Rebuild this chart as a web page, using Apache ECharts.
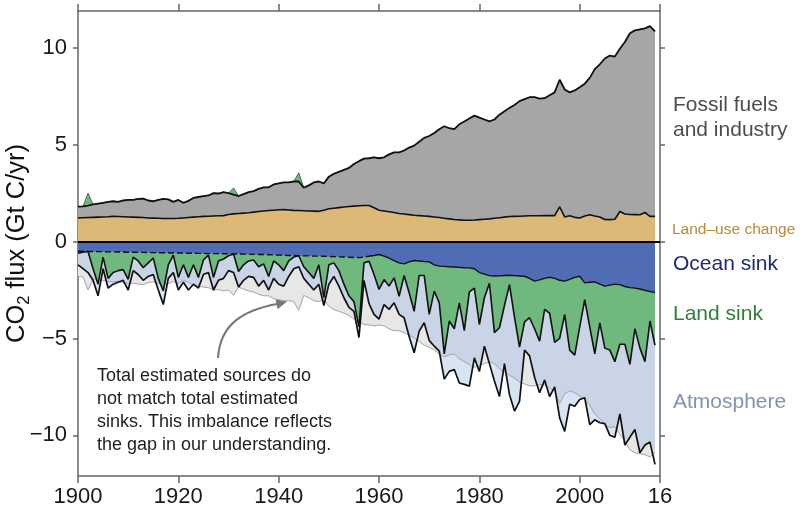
<!DOCTYPE html>
<html><head><meta charset="utf-8">
<script src="https://cdn.jsdelivr.net/npm/echarts@6/dist/echarts.min.js"></script>
<style>html,body{margin:0;padding:0;background:#fff}#c{width:800px;height:522px}</style>
</head><body><div id="c"></div>
<script>
const startYear = 1900;
// Gt C / yr, 1900 .. 2015
const fossil = [0.58,0.59,0.61,0.67,0.70,0.73,0.77,0.78,0.76,0.84,
0.88,0.89,0.95,0.98,0.90,0.87,0.95,1.01,0.99,0.86,
0.95,0.78,0.86,0.99,1.02,1.05,1.07,1.18,1.15,1.21,
1.10,0.99,0.90,0.98,1.06,1.08,1.17,1.22,1.20,1.33,
1.36,1.40,1.42,1.49,1.50,1.19,1.32,1.48,1.54,1.38,
1.66,1.78,1.85,1.92,1.99,2.17,2.30,2.42,2.44,2.61,
2.68,2.77,2.96,3.10,3.15,3.28,3.46,3.59,3.81,4.03,
4.15,4.33,4.56,4.75,4.68,4.66,4.93,5.10,5.25,5.39,
5.27,5.15,5.03,5.10,5.32,5.46,5.61,5.75,5.94,6.03,
6.12,6.12,6.05,6.06,6.21,6.36,6.56,6.58,6.37,6.55,
6.75,6.83,7.07,7.58,7.88,8.31,8.47,8.40,8.40,8.88,
9.35,9.51,9.57,9.50,9.82,9.55];
const landUse = [1.22,1.23,1.24,1.25,1.26,1.27,1.28,1.30,1.29,1.28,
1.27,1.26,1.25,1.24,1.22,1.21,1.20,1.19,1.19,1.19,
1.20,1.22,1.24,1.26,1.28,1.30,1.31,1.32,1.33,1.34,
1.40,1.43,1.45,1.47,1.49,1.52,1.55,1.58,1.60,1.62,
1.64,1.65,1.63,1.61,1.60,1.59,1.58,1.57,1.56,1.62,
1.69,1.72,1.75,1.78,1.81,1.83,1.85,1.86,1.86,1.74,
1.62,1.58,1.54,1.50,1.45,1.42,1.39,1.36,1.34,1.32,
1.30,1.27,1.24,1.20,1.17,1.14,1.12,1.10,1.10,1.11,
1.13,1.15,1.17,1.20,1.23,1.26,1.29,1.30,1.31,1.32,
1.33,1.33,1.33,1.34,1.34,1.34,1.79,1.27,1.33,1.25,
1.22,1.32,1.38,1.32,1.27,1.14,1.13,1.15,1.55,1.42,
1.40,1.39,1.38,1.50,1.30,1.30];
const oceanSink = [-0.50,-0.50,-0.51,-0.51,-0.52,-0.52,-0.53,-0.53,-0.54,-0.54,
-0.55,-0.55,-0.56,-0.56,-0.57,-0.57,-0.58,-0.58,-0.58,-0.59,
-0.59,-0.60,-0.60,-0.60,-0.61,-0.61,-0.62,-0.62,-0.62,-0.63,
-0.63,-0.64,-0.64,-0.65,-0.65,-0.66,-0.67,-0.67,-0.68,-0.69,
-0.70,-0.71,-0.72,-0.72,-0.73,-0.74,-0.74,-0.75,-0.75,-0.76,
-0.77,-0.78,-0.79,-0.80,-0.81,-0.82,-0.83,-0.80,-0.76,-0.72,
-0.67,-0.75,-0.85,-0.98,-1.10,-1.15,-1.05,-0.98,-1.00,-1.03,
-1.05,-1.20,-1.27,-1.28,-1.30,-1.31,-1.33,-1.35,-1.36,-1.40,
-1.60,-1.68,-1.76,-1.78,-1.77,-1.75,-1.74,-1.76,-1.78,-1.79,
-1.90,-2.04,-1.98,-1.90,-1.84,-1.90,-2.00,-2.04,-1.95,-1.85,
-1.79,-2.13,-2.10,-2.08,-2.20,-2.30,-2.25,-2.20,-2.22,-2.32,
-2.38,-2.40,-2.45,-2.52,-2.58,-2.62];
// negative = sink, positive = net land source
const landSink = [-0.10,-0.05,0.65,-0.89,-1.68,-0.28,-1.37,-1.07,-0.96,-0.91,
-1.40,-0.25,-0.44,-0.79,-0.53,-0.28,-1.32,-1.97,-0.62,-0.11,
-1.26,-0.60,-1.25,-0.60,-1.24,-0.34,-0.08,-1.23,-0.38,-0.27,
-0.10,0.35,-0.91,-0.55,-0.35,-0.29,-0.63,-0.48,-1.12,-0.31,
-0.50,-0.79,-0.28,-0.08,0.45,-0.56,-0.86,-1.15,-0.45,-2.14,
-0.43,-0.32,-0.71,-1.40,-1.99,-2.28,-3.57,-0.30,-0.25,-0.98,
-1.80,-1.21,-1.45,-0.89,-1.72,-0.60,-1.59,-2.62,-0.75,-0.72,
-2.71,-1.36,-1.89,-4.52,-2.80,-3.19,-1.83,-3.25,-1.24,-1.00,
-2.68,-1.22,-0.39,-2.92,-2.68,-1.55,-0.48,-2.14,-3.67,-2.36,
-2.03,-2.46,-3.16,-1.60,-1.86,-3.30,-3.00,-1.72,-3.65,-4.01,
-2.61,-0.87,-2.30,-3.72,-2.00,-3.20,-3.35,-4.00,-3.08,-2.98,
-3.96,-2.10,-3.05,-3.68,-1.52,-2.73];
const atmosphere = [-0.60,-0.85,-1.09,-0.60,-0.60,-0.60,-0.50,-0.60,-0.60,-0.55,
-0.55,-0.70,-0.70,-0.65,-0.70,-0.85,-0.60,-0.70,-0.70,-0.90,
-0.65,-0.90,-0.65,-1.00,-0.55,-0.75,-0.90,-0.65,-1.00,-1.00,
-0.77,-0.96,-0.80,-0.80,-0.80,-0.90,-1.00,-0.85,-0.70,-0.90,
-1.00,-0.80,-0.80,-0.60,-0.57,-0.60,-0.60,-0.60,-1.00,-0.40,
-1.00,-0.70,-0.80,-0.70,-0.60,-0.50,-0.55,-0.90,-2.19,-2.06,
-1.53,-1.29,-1.20,-1.29,-0.94,-2.18,-2.26,-2.14,-2.87,-2.44,
-1.34,-2.84,-2.49,-1.30,-2.60,-2.10,-4.14,-2.77,-4.86,-3.60,
-2.42,-2.50,-4.15,-2.50,-3.55,-3.00,-5.68,-4.85,-2.80,-1.45,
-1.97,-2.50,-2.66,-3.65,-4.30,-2.30,-4.10,-6.04,-2.80,-2.64,
-3.75,-5.06,-5.05,-3.40,-5.15,-3.90,-4.40,-3.90,-3.60,-5.20,
-3.76,-5.20,-5.40,-4.30,-6.25,-6.15];
const lastDashedYear = 1958;
const xTickValues = [1900,1920,1940,1960,1980,2000,2016];
const yTickValues = [-10,-5,0,5,10];

const n = fossil.length;
const years = [];
for (let i = 0; i < n; i++) years.push(startYear + i);
const pts = arr => arr.map((v, i) => [years[i], v]);
const sources = fossil.map((v, i) => v + landUse[i]);
const landSource = landSink.map(v => Math.max(v, 0));
const sourcesWithLand = sources.map((v, i) => v + landSource[i]);
const mirror = sourcesWithLand.map(v => -v);
const oceanLand = oceanSink.map((v, i) => v + Math.min(landSink[i], 0));
const sinkTotal = oceanLand.map((v, i) => v + atmosphere[i]);
const atmMain = sinkTotal.map((v, i) => Math.max(v, mirror[i]));

const FONT = '"Liberation Sans", Arial, Helvetica, sans-serif';
const AX = '#666';

function area(name, arr, fill, line) {
  return {
    type: 'line', name: name, data: pts(arr), showSymbol: false, symbol: 'none',
    smooth: false, silent: true, animation: false, emphasis: {disabled: true},
    areaStyle: {color: fill, opacity: 1},
    lineStyle: line || {width: 0}
  };
}
function lineOnly(name, data, style) {
  return {
    type: 'line', name: name, data: data, showSymbol: false, symbol: 'none',
    smooth: false, silent: true, animation: false, emphasis: {disabled: true},
    lineStyle: style
  };
}
const oceanPts = pts(oceanSink);
const cut = years.indexOf(lastDashedYear);

const series = [
  area('Land source', sourcesWithLand, '#6fb97e', {color: '#34523b', width: 0.8}),
  area('Fossil fuels and industry', sources, '#a6a6a6', {color: '#111', width: 1.8}),
  area('Land-use change', landUse, '#dcb977', {color: '#111', width: 1.6}),
  area('Imbalance', mirror, '#e7e7e7'),
  area('Atmosphere (beyond sources)', sinkTotal, '#d7e4f2'),
  area('Atmosphere', atmMain, '#c9d4e6'),
  lineOnly('Total sources (mirrored)', pts(mirror), {color: '#a4a4a4', width: 1}),
  lineOnly('Total sinks', pts(sinkTotal), {color: '#111', width: 1.7}),
  area('Land sink', oceanLand, '#6fb97e', {color: '#111', width: 1.6}),
  area('Ocean sink', oceanSink, '#4f6cb5'),
  lineOnly('Ocean sink (early)', oceanPts.slice(0, cut + 1), {color: '#111', width: 1.4, type: [6, 3]}),
  Object.assign(lineOnly('Ocean sink (obs)', oceanPts.slice(cut), {color: '#111', width: 1.4}), {
    markLine: {silent: true, animation: false, symbol: ['none', 'none'], label: {show: false},
      lineStyle: {color: '#000', width: 2.2, type: 'solid'}, data: [{yAxis: 0}]}
  })
];

function xAxisDef(pos, labels) {
  return {
    type: 'value', min: 1900, max: 2016, position: pos,
    axisLine: {show: true, onZero: false, lineStyle: {color: AX, width: 1.5}},
    axisTick: {show: true, length: 7, customValues: xTickValues, lineStyle: {color: AX, width: 1.5}},
    axisLabel: labels ? {show: true, customValues: xTickValues, formatter: v => v === 2016 ? '16' : String(v),
      fontSize: 22, color: '#1a1a1a', margin: 10, fontFamily: FONT} : {show: false},
    splitLine: {show: false}
  };
}
function yAxisDef(pos, labels) {
  const d = {
    type: 'value', min: -12.1, max: 11.9, position: pos,
    axisLine: {show: true, onZero: false, lineStyle: {color: AX, width: 1.5}},
    axisTick: {show: true, length: 5, customValues: yTickValues, lineStyle: {color: AX, width: 1.5}},
    axisLabel: labels ? {show: true, customValues: yTickValues,
      formatter: v => v < 0 ? '\u2212' + Math.abs(v) : String(v),
      fontSize: 22, color: '#1a1a1a', margin: 11, fontFamily: FONT} : {show: false},
    splitLine: {show: false}
  };
  if (labels) {
    d.name = 'CO{sub|2} flux (Gt C/yr)';
    d.nameLocation = 'middle';
    d.nameGap = 45;
    d.nameRotate = 90;
    d.nameMoveOverlap = false;
    d.nameTextStyle = {fontSize: 25.5, lineHeight: 32, color: '#111', fontFamily: FONT,
      rich: {sub: {fontSize: 16.5, lineHeight: 32, verticalAlign: 'bottom', color: '#111', fontFamily: FONT}}};
  }
  return d;
}

function txt(t, x, y, size, color) {
  return {type: 'text', x: x, y: y, silent: true,
    style: {text: t, font: size + 'px ' + FONT, fill: color, align: 'left', verticalAlign: 'middle',
      textAlign: 'left', textVerticalAlign: 'middle'}};
}

const option = {
  animation: false,
  backgroundColor: '#fff',
  grid: {left: 78, top: 11, width: 582, height: 465, containLabel: false, outerBoundsMode: 'none'},
  xAxis: [xAxisDef('bottom', true), xAxisDef('top', false)],
  yAxis: [yAxisDef('left', true), yAxisDef('right', false)],
  series: series,
  graphic: [
    txt('Fossil fuels', 673, 105.5, 21, '#4d4d4d'),
    txt('and industry', 673, 130.5, 21, '#4d4d4d'),
    txt('Land\u2013use change', 672, 229.5, 15.5, '#b98a34'),
    txt('Ocean sink', 673, 264.5, 21, '#1c2b6e'),
    txt('Land sink', 673, 314.5, 21, '#2f7f3b'),
    txt('Atmosphere', 673, 402.5, 21, '#8392b3'),
    txt('Total estimated sources do', 97, 376.5, 18, '#1e1e1e'),
    txt('not match total estimated', 97, 399.5, 18, '#1e1e1e'),
    txt('sinks. This imbalance reflects', 97, 422.5, 18, '#1e1e1e'),
    txt('the gap in our understanding.', 97, 445.5, 18, '#1e1e1e'),
    {type: 'bezierCurve', silent: true,
      shape: {x1: 218, y1: 358, cpx1: 220, cpy1: 323, cpx2: 245, cpy2: 310, x2: 277, y2: 304},
      style: {stroke: '#777', lineWidth: 2, fill: null}},
    {type: 'polygon', silent: true,
      shape: {points: [[287, 301.5], [275.5, 299.2], [277.6, 309.2]]},
      style: {fill: '#777'}}
  ]
};
const chart = echarts.init(document.getElementById('c'), null, {renderer: 'canvas'});
chart.setOption(option);
</script></body></html>
